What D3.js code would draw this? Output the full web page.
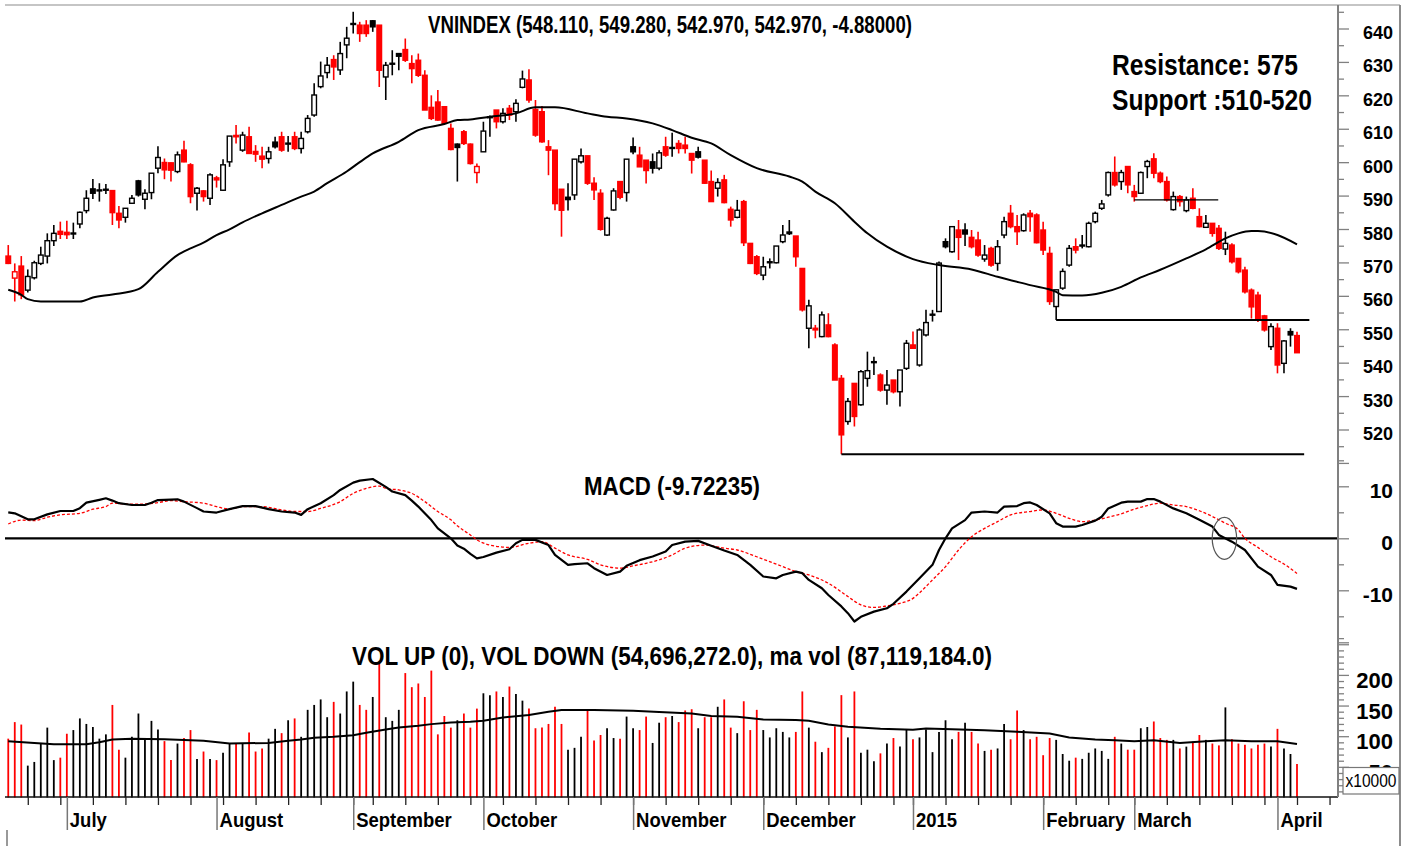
<!DOCTYPE html>
<html>
<head>
<meta charset="utf-8">
<script src="https://cdn.jsdelivr.net/npm/d3@7"></script>
<style>
  html, body { margin: 0; padding: 0; background: #fff; }
  svg { display: block; font-family: "Liberation Sans", Arial, sans-serif; }
</style>
</head>
<body>
<svg id="chart" width="1412" height="846"></svg>
<script>
// ---- trading calendar (HOSE, 18 Jun 2014 .. mid Apr 2015) ----
const firstDay = "2014-06-18";
const lastAxisDay = "2015-04-14";
const holidays = ["2014-09-01", "2014-09-02", "2015-01-01", "2015-01-02",
  "2015-02-16", "2015-02-17", "2015-02-18", "2015-02-19", "2015-02-20", "2015-02-23"];
const monthLabels = ["July", "August", "September", "October", "November", "December",
  "2015", "February", "March", "April"];

// ---- VNINDEX daily candles ----
const open = [
  571.9,565.3,568.9,561.7,565.4,569.7,571.9,576.5,579.3,579.0,
  578.6,581.5,585.5,592.0,591.5,591.6,591.5,584.7,583.5,587.7,
  594.4,588.9,590.9,598.2,599.9,599.8,597.2,603.6,599.2,590.7,
  591.4,589.2,595.3,591.6,600.1,608.0,603.6,607.6,603.2,601.8,
  601.1,606.0,607.6,605.5,607.6,604.1,609.1,614.1,622.6,626.8,
  630.7,627.6,635.1,641.5,641.0,641.0,642.3,641.0,625.5,629.5,
  632.5,633.7,629.5,630.5,626.0,616.4,618.0,616.6,610.1,605.4,
  609.1,605.4,596.9,603.1,613.4,615.6,612.1,616.1,615.1,622.4,
  624.6,615.8,615.1,604.6,603.6,591.9,589.5,590.2,600.1,601.9,
  593.7,590.7,578.2,585.7,594.2,590.9,604.6,602.1,600.6,600.1,
  598.2,604.6,604.3,605.6,605.1,602.6,603.1,600.6,594.2,592.2,
  594.7,585.9,583.5,588.2,575.7,571.7,566.2,570.2,569.9,576.2,
  579.1,577.9,568.2,550.3,550.3,547.8,551.3,545.3,535.3,522.4,
  533.8,527.4,535.3,540.3,536.3,531.8,534.8,531.3,538.3,545.3,
  539.3,548.3,554.3,555.3,576.2,573.2,579.7,579.7,577.5,576.7,
  571.0,574.2,569.7,578.2,584.7,580.7,579.5,584.7,584.2,579.7,
  572.7,556.8,562.3,569.2,574.7,575.2,574.7,582.2,586.2,590.2,
  596.9,594.2,598.7,591.2,590.7,598.7,601.0,596.7,594.2,585.8,
  589.7,585.5,589.2,583.7,580.5,581.7,580.2,574.0,575.2,571.2,
  567.7,561.7,560.2,554.0,544.8,550.3,539.8,549.3,548.11
];
const high = [
  575.2,569.7,571.9,567.9,570.5,574.7,578.7,581.2,582.2,582.5,
  581.9,585.2,591.6,595.0,593.7,593.5,591.5,586.9,586.2,590.2,
  594.7,591.9,596.7,604.8,601.1,599.9,603.2,606.4,599.7,592.6,
  591.6,596.7,595.9,600.9,607.8,611.1,609.1,610.6,605.1,604.6,
  604.6,607.6,609.1,607.8,609.1,609.1,614.1,623.6,630.1,631.5,
  632.0,636.0,640.5,645.0,642.0,642.5,642.5,641.0,630.0,633.5,
  632.6,637.0,632.0,632.5,627.5,620.0,621.6,616.6,611.6,605.6,
  609.6,605.6,599.6,612.1,614.0,615.6,616.1,617.1,618.8,627.4,
  627.8,618.6,616.8,606.6,603.6,591.9,593.7,600.9,604.1,601.9,
  595.5,591.9,583.7,592.2,594.2,600.9,607.4,604.6,600.6,602.6,
  603.6,607.6,608.8,606.6,607.6,602.6,604.6,600.6,597.5,595.2,
  596.2,586.7,588.7,588.7,575.7,572.2,571.7,571.2,574.9,581.2,
  582.7,577.9,568.2,558.8,551.3,555.3,554.8,545.8,536.3,529.4,
  533.8,537.8,543.3,541.8,536.8,537.8,534.8,537.8,546.8,549.3,
  550.3,555.8,555.8,570.3,577.2,580.7,582.7,581.7,579.7,579.2,
  575.2,574.7,576.7,583.7,587.2,584.2,584.7,585.7,584.7,582.2,
  574.7,561.8,568.2,575.2,577.2,578.2,582.2,585.2,588.7,597.2,
  601.7,597.7,598.7,593.2,597.2,600.7,602.7,597.2,595.7,591.2,
  590.2,589.7,592.2,586.2,584.2,581.7,581.2,579.2,575.7,571.2,
  568.7,562.2,561.2,554.3,551.8,551.8,546.8,550.3,549.28
];
const low = [
  569.5,558.3,559.0,561.0,564.9,569.2,569.7,574.9,577.0,577.0,
  577.0,580.2,584.7,589.0,588.2,590.5,581.2,580.2,581.9,587.5,
  589.7,585.9,588.9,596.7,594.9,594.2,596.7,600.0,587.7,585.5,
  588.2,587.2,592.4,591.4,598.6,605.6,603.1,602.6,600.1,598.2,
  599.6,604.1,603.1,603.1,603.6,602.6,608.6,613.6,622.1,625.1,
  624.6,626.1,631.1,638.5,636.0,637.5,639.0,622.5,618.6,626.0,
  627.5,630.0,623.6,625.5,615.6,612.6,612.4,611.4,603.6,594.2,
  605.1,599.3,593.7,603.1,607.6,610.1,611.6,612.6,612.1,622.1,
  617.8,607.6,605.8,596.1,585.6,577.7,585.5,588.7,599.6,593.2,
  588.7,579.5,577.9,585.5,588.9,588.2,602.4,598.6,593.6,596.6,
  597.6,601.6,601.6,602.6,602.6,596.6,601.1,593.5,588.2,589.7,
  587.7,580.7,583.2,574.9,569.5,566.2,564.7,568.2,569.7,575.7,
  578.2,568.7,555.3,544.3,547.3,547.6,547.6,534.8,512.6,521.4,
  520.9,527.1,532.8,536.3,531.3,527.4,530.8,526.9,537.8,544.3,
  538.8,547.8,552.3,555.3,574.2,572.9,570.7,574.9,574.2,571.7,
  570.2,568.7,567.5,577.2,580.2,575.2,579.2,579.2,575.7,572.2,
  557.3,552.8,561.8,568.7,572.7,574.2,574.5,581.7,585.7,589.7,
  592.7,591.7,590.7,588.2,590.5,595.2,595.2,593.7,588.2,585.5,
  586.7,585.0,585.9,580.5,580.5,577.7,573.7,572.2,569.7,566.7,
  560.7,553.2,552.2,549.3,543.8,536.8,536.8,544.8,542.97
];
const close = [
  569.7,567.2,560.3,565.8,569.9,572.2,576.5,578.7,578.4,578.3,
  578.8,585.0,589.2,590.7,591.7,591.9,584.9,582.7,586.2,589.2,
  590.2,590.7,596.7,601.4,597.7,597.6,602.2,600.1,589.7,592.2,
  589.7,596.2,594.7,599.2,607.8,607.6,608.1,602.6,602.4,600.9,
  603.1,604.6,603.6,605.7,604.1,607.1,613.1,620.1,625.8,629.0,
  628.5,632.5,637.1,641.4,638.5,638.5,640.5,627.5,629.0,629.6,
  631.7,630.5,628.0,626.0,615.6,613.1,612.6,611.6,603.8,604.4,
  605.6,599.6,598.7,609.3,613.6,612.1,614.6,614.1,617.6,624.9,
  618.6,608.1,606.1,603.6,587.6,585.6,588.8,600.9,601.9,593.7,
  591.7,579.9,583.2,591.4,589.5,600.9,603.1,598.6,597.5,598.2,
  602.8,602.1,604.4,604.1,604.1,600.6,601.5,593.7,588.2,593.9,
  587.9,582.7,585.6,575.9,569.7,566.7,568.7,569.9,574.9,578.2,
  578.6,571.7,555.8,557.0,549.8,554.3,547.8,534.8,518.4,528.4,
  523.9,537.3,537.6,540.1,531.8,533.3,531.3,537.8,545.8,544.3,
  549.8,552.0,554.5,569.8,574.7,580.7,577.5,578.5,574.7,572.2,
  572.2,569.2,574.7,582.2,580.7,579.2,584.2,583.7,575.9,573.7,
  558.3,561.8,567.3,574.2,573.7,575.0,581.7,584.7,587.5,596.9,
  593.2,596.9,593.2,589.7,596.9,600.2,596.7,594.2,588.7,589.7,
  588.2,588.7,586.2,580.7,581.7,578.7,574.2,575.7,570.2,567.2,
  561.2,556.7,553.2,549.8,550.8,539.3,546.5,548.3,542.97
];
// R = down day (red), B = up day (black)
const candleColor = (
  "RRRBBBBBRR" + "BBBBBBRRBB" + "BBBBRRBRRB" + "RBRBBRBRRR" + "BBRBRBBBBB" +
  "RBBBRRBRBB" + "BRRRRRRRRB" + "RRRBBRBRBB" + "RRRRRRBBBR" + "RRBBRBBRRB" +
  "BRBRRRBRRB" + "RRBRRRBBBB" + "BRRBRBRRRB" + "RBBBRBRBBR" + "BBBBBBRBRR" +
  "BRBBRRBRRR" + "RBBBRBBBBB" + "RBRRBBRRRB" + "RBRRBRRBRR" + "RRRRBRBBR"
).split("");

// volume, x10000 as on the axis
const volume = [
  96,123,119,52,58,88,114,61,65,104,
  110,129,120,115,96,103,151,78,65,99,
  137,96,125,111,92,61,88,97,110,63,
  75,63,61,73,88,88,88,106,75,80,
  96,112,105,126,129,99,143,151,160,131,
  156,137,173,189,151,143,164,222,131,125,
  143,203,180,186,164,207,103,133,114,126,
  137,114,145,170,167,173,164,181,169,158,
  145,113,114,120,148,120,78,81,99,143,
  93,102,113,97,96,132,113,110,132,89,
  122,131,133,123,142,144,113,131,131,148,
  160,114,105,157,110,143,110,98,113,107,
  98,107,173,114,91,74,81,116,167,98,
  173,73,78,59,72,88,97,83,111,95,
  98,111,74,107,126,95,107,122,107,88,
  76,78,80,120,95,142,110,95,99,69,
  97,94,71,60,65,63,73,80,76,63,
  99,88,78,78,113,115,124,97,94,94,
  80,83,91,102,94,88,85,147,95,88,
  86,80,86,88,83,112,80,71,54.7
];

// moving average on price, [bar, value]
const ma50Line = [
  [0,561.8],[2,560.3],[3,559.0],[5,558.3],[8,558.3],[11,558.3],[13,559.5],[16,560.4],[20,562.0],[23,567.2],
  [26,572.2],[28,574.2],[30,575.9],[32,578.2],[34,579.9],[36,582.0],[39,584.7],[42,587.2],[45,589.7],[47,591.2],
  [49,593.7],[52,597.2],[54,600.0],[56,602.6],[60,606.1],[63,609.6],[67,611.4],[69,612.6],[71,612.8],[74,613.6],
  [78,614.6],[81,616.4],[84,616.4],[89,614.6],[92,613.6],[95,613.1],[99,611.6],[102,609.6],[105,607.3],[108,605.6],
  [111,602.1],[115,598.2],[120,595.7],[122,594.2],[124,591.2],[127,587.7],[130,582.2],[132,578.7],[135,574.7],[139,571.0],
  [143,569.2],[148,567.9],[152,565.7],[157,563.2],[161,561.2],[162,560.2],[165,560.1],[168,560.9],[171,562.7],[174,565.5],
  [177,567.8],[181,571.2],[184,573.9],[187,577.2],[189,578.7],[191,579.4],[192,579.4],[195,578.2],[198,575.4]
];

// MACD and signal, [bar, value]
const macdLine = [
  [0,5.0],[1,4.8],[3,3.65],[4,3.65],[6,4.6],[8,5.25],[10,5.25],[11,5.8],[12,6.85],[14,7.4],[15,7.7],[16,7.25],
  [17,6.75],[19,6.4],[21,6.4],[22,6.85],[23,7.35],[26,7.5],[27,7.05],[29,5.8],[30,5.15],[32,4.95],[34,5.6],
  [36,6.2],[38,6.2],[40,5.6],[42,5.15],[44,4.95],[45,4.5],[46,5.6],[48,6.75],[50,8.3],[51,9.3],[53,10.7],
  [54,11.1],[56,11.4],[58,9.9],[59,9.0],[61,8.3],[62,7.25],[63,6.1],[65,3.5],[66,1.9],[68,0],[69,-1.4],
  [70,-2.0],[71,-3.0],[72,-3.85],[73,-3.6],[75,-2.75],[77,-2.1],[78,-0.95],[79,-0.3],[81,-0.3],[83,-1.3],
  [84,-3.2],[86,-5.1],[87,-4.95],[89,-4.8],[90,-5.75],[92,-7.05],[94,-6.4],[95,-5.3],[97,-4.2],[99,-3.5],
  [101,-2.55],[102,-1.3],[104,-0.65],[106,-0.5],[108,-1.45],[110,-2.35],[112,-3.2],[114,-5.1],[116,-7.35],
  [118,-7.7],[119,-7.05],[121,-6.4],[122,-6.7],[123,-8.0],[125,-9.6],[126,-10.9],[128,-13.1],[129,-14.4],
  [130,-16.0],[131,-15.1],[133,-14.1],[135,-13.45],[136,-12.6],[138,-10.25],[140,-7.7],[141,-6.4],[142,-5.1],
  [143,-2.25],[144,0],[145,1.9],[147,3.5],[148,4.95],[150,5.15],[152,4.95],[153,6.1],[155,6.2],[156,6.75],
  [157,6.9],[158,6.4],[160,4.8],[161,2.9],[162,2.25],[164,2.25],[165,2.55],[167,3.4],[168,4.15],[169,5.75],
  [171,6.85],[172,7.05],[174,7.05],[175,7.55],[176,7.55],[177,7.05],[179,5.75],[181,4.8],[183,3.55],
  [185,2.25],[186,0.65],[188,-0.65],[190,-2.25],[192,-5.45],[194,-7.05],[195,-8.95],[197,-9.3],[198,-9.72]
];
const signalLine = [
  [0,2.75],[2,3.5],[4,3.4],[6,4.05],[8,4.5],[11,4.8],[13,5.6],[15,6.1],[16,6.75],[18,6.6],[20,6.55],
  [23,6.85],[25,7.25],[27,7.05],[30,6.75],[32,6.1],[34,5.6],[36,6.1],[39,6.1],[42,5.45],[44,5.15],[46,5.15],
  [48,5.75],[51,7.05],[53,8.65],[55,9.6],[57,10.05],[58,9.6],[60,9.3],[62,8.65],[64,7.05],[66,5.15],
  [68,3.55],[69,2.4],[71,0.65],[72,-0.3],[74,-1.3],[77,-1.75],[80,-0.95],[82,-0.65],[84,-1.9],[86,-3.2],
  [89,-4.05],[91,-5.1],[94,-5.75],[96,-5.3],[98,-4.8],[100,-4.15],[102,-3.2],[104,-1.9],[107,-1.3],
  [110,-1.9],[112,-2.25],[115,-3.55],[119,-5.45],[121,-6.4],[123,-7.05],[126,-8.65],[129,-11.2],
  [131,-12.8],[133,-13.3],[135,-13.0],[137,-12.5],[139,-11.55],[140,-10.5],[142,-8.0],[144,-5.45],
  [146,-2.25],[148,0.3],[150,1.9],[152,3.2],[154,4.5],[157,5.15],[159,5.45],[161,4.8],[163,3.85],
  [165,3.2],[167,3.5],[169,4.05],[171,4.7],[173,5.6],[175,6.3],[177,6.75],[179,6.4],[181,6.1],[183,5.3],
  [185,4.2],[187,2.9],[189,1.6],[190,0],[192,-1.75],[194,-3.55],[196,-4.95],[198,-6.75]
];

// moving average on volume, [bar, value]
const volMaLine = [
  [0,91.8],[4,89.1],[7,86.9],[12,86.9],[14,90.2],[16,94.6],[19,95.7],[24,95.1],[30,92.4],[34,88],
  [40,89.1],[43,92.4],[45,94.6],[47,97.3],[50,99],[53,101.7],[55,105.5],[58,111],[60,114.3],[63,117],
  [65,119.7],[68,122.5],[71,123.5],[73,125.2],[76,130.6],[80,134.5],[83,139.9],[85,142.7],[90,142.7],
  [96,141.6],[100,139.4],[105,137.2],[108,132.8],[112,131.7],[116,127.4],[121,126.3],[123,125.2],
  [126,119.2],[129,115.3],[134,112.1],[139,110.5],[141,112.6],[145,111.5],[150,109.9],[155,107.1],
  [160,104.4],[163,97.9],[167,94.6],[170,93.5],[173,91.9],[176,93.5],[180,89.1],[184,91.9],[187,93.5],
  [191,91.9],[195,91.9],[198,87.1]
];

// drawn support / resistance levels: price, first bar, last bar
const levels = [
  { price: 512.6, from: 128, to: 199.1, w: 2 },
  { price: 552.8, from: 161, to: 199.9, w: 2 },
  { price: 588.7, from: 173, to: 185.9, w: 1.2 }
];

// ---------------------------------------------------------------
const RED = "#ff0000", GRAY = "#808080", FONT = '"Liberation Sans", Arial, sans-serif';
const AX = 1338;
const svg = d3.select("#chart");

const fmtDay = d3.utcFormat("%Y-%m-%d");
const days = d3.utcDays(new Date(firstDay), d3.utcDay.offset(new Date(lastAxisDay), 1))
  .filter(d => d.getUTCDay() % 6 !== 0 && !holidays.includes(fmtDay(d)));
const monthStarts = [], weekStarts = [];
days.forEach((d, i) => {
  if (i === 0) return;
  const p = days[i - 1];
  if (d.getUTCMonth() !== p.getUTCMonth()) monthStarts.push(i);
  if (+d3.utcMonday.floor(d) !== +d3.utcMonday.floor(p)) weekStarts.push(i);
});

const x = d3.scaleLinear().domain([-0.5, 204.3]).range([5, AX]);
const yP = d3.scaleLinear().domain([520, 640]).range([429.5, 28.5]);
const yM = d3.scaleLinear().domain([-10, 10]).range([590.3, 486.3]);
const yV = d3.scaleLinear().domain([0, 200]).range([797.5, 674.9]);

const bars = close.map((c, i) => ({
  i, o: open[i], h: high[i], l: low[i], c, v: volume[i],
  col: candleColor[i] === "R" ? RED : "#000"
}));

// frame
svg.append("line").attr("x1", 5).attr("x2", 1400).attr("y1", 5).attr("y2", 5)
  .attr("stroke", "#8c8c8c").attr("stroke-width", 1.2);
svg.append("line").attr("x1", 1400).attr("x2", 1400).attr("y1", 5).attr("y2", 846)
  .attr("stroke", "#8c8c8c").attr("stroke-width", 2);
svg.append("line").attr("x1", 7).attr("x2", 7).attr("y1", 830).attr("y2", 846)
  .attr("stroke", "#999").attr("stroke-width", 2);

// ---- price panel ----
const priceG = svg.append("g");
priceG.selectAll("line.wick").data(bars).join("line").attr("class", "wick")
  .attr("x1", d => x(d.i)).attr("x2", d => x(d.i))
  .attr("y1", d => yP(d.h)).attr("y2", d => yP(d.l))
  .attr("stroke", d => d.col).attr("stroke-width", 1.6);
priceG.selectAll("rect.body").data(bars).join("rect").attr("class", "body")
  .attr("x", d => x(d.i) - 2.3).attr("width", 4.6)
  .attr("y", d => yP(Math.max(d.o, d.c)))
  .attr("height", d => Math.max(1, Math.abs(yP(d.o) - yP(d.c))))
  .attr("fill", d => d.c >= d.o ? "#fff" : d.col)
  .attr("stroke", d => d.col).attr("stroke-width", 1.4);

priceG.append("path").datum(ma50Line)
  .attr("d", d3.line().x(d => x(d[0])).y(d => yP(d[1])).curve(d3.curveMonotoneX))
  .attr("fill", "none").attr("stroke", "#000").attr("stroke-width", 2);

priceG.selectAll("line.level").data(levels).join("line").attr("class", "level")
  .attr("x1", d => x(d.from)).attr("x2", d => x(d.to))
  .attr("y1", d => yP(d.price)).attr("y2", d => yP(d.price))
  .attr("stroke", "#000").attr("stroke-width", d => d.w);

// ---- MACD panel ----
const macdG = svg.append("g");
macdG.append("line").attr("x1", 5).attr("x2", AX).attr("y1", yM(0)).attr("y2", yM(0))
  .attr("stroke", "#000").attr("stroke-width", 2.3);
macdG.append("path").datum(signalLine)
  .attr("d", d3.line().x(d => x(d[0])).y(d => yM(d[1])).curve(d3.curveMonotoneX))
  .attr("fill", "none").attr("stroke", RED).attr("stroke-width", 1.3).attr("stroke-dasharray", "3,2");
macdG.append("path").datum(macdLine)
  .attr("d", d3.line().x(d => x(d[0])).y(d => yM(d[1])))
  .attr("fill", "none").attr("stroke", "#000").attr("stroke-width", 2.2).attr("stroke-linejoin", "round");
macdG.append("ellipse").attr("cx", x(186.85)).attr("cy", yM(0)).attr("rx", 12.2).attr("ry", 21)
  .attr("fill", "none").attr("stroke", "#555").attr("stroke-width", 1.2);

// ---- volume panel ----
const volG = svg.append("g");
volG.selectAll("line.vol").data(bars).join("line").attr("class", "vol")
  .attr("x1", d => x(d.i)).attr("x2", d => x(d.i))
  .attr("y1", yV(0)).attr("y2", d => yV(d.v))
  .attr("stroke", d => d.col).attr("stroke-width", 1.8);
volG.append("path").datum(volMaLine)
  .attr("d", d3.line().x(d => x(d[0])).y(d => yV(d[1])))
  .attr("fill", "none").attr("stroke", "#000").attr("stroke-width", 2);

// ---- bottom axis ----
svg.append("line").attr("x1", 5).attr("x2", AX).attr("y1", 797).attr("y2", 797)
  .attr("stroke", "#111").attr("stroke-width", 1.5);
const weekAx = svg.append("g").attr("transform", "translate(0,797)")
  .call(d3.axisBottom(x).tickValues(weekStarts).tickSize(8).tickFormat(""));
weekAx.select(".domain").remove();
weekAx.selectAll(".tick line").attr("stroke", "#222").attr("stroke-width", 1.3);

const monthAx = svg.append("g").attr("transform", "translate(0,797)")
  .call(d3.axisBottom(x).tickValues(monthStarts).tickSize(33)
    .tickFormat((d, k) => monthLabels[k]));
monthAx.select(".domain").remove();
monthAx.attr("font-family", FONT).attr("font-size", 21);
monthAx.selectAll(".tick line").attr("stroke", "#777").attr("stroke-width", 1.5);
monthAx.selectAll(".tick text")
  .attr("x", 2.5).attr("y", 30).attr("dy", 0).attr("text-anchor", "start")
  .attr("font-weight", "bold").attr("fill", "#000")
  .each(function () {
    const w = this.getComputedTextLength();
    d3.select(this).attr("textLength", w * 0.88).attr("lengthAdjust", "spacingAndGlyphs");
  });

// ---- right axes ----
svg.append("line").attr("x1", AX).attr("x2", AX).attr("y1", 5).attr("y2", 797)
  .attr("stroke", GRAY).attr("stroke-width", 2);

function rightAxis(scale, minor, major, fmt, fontSize, dy) {
  const gMinor = svg.append("g").attr("transform", `translate(${AX},0)`)
    .call(d3.axisRight(scale).tickValues(minor).tickSize(6).tickFormat(""));
  gMinor.select(".domain").remove();
  gMinor.selectAll(".tick line").attr("stroke", GRAY).attr("stroke-width", 1.3);
  const gMajor = svg.append("g").attr("transform", `translate(${AX},0)`)
    .call(d3.axisRight(scale).tickValues(major).tickSize(11).tickFormat(fmt));
  gMajor.select(".domain").remove();
  gMajor.attr("font-family", FONT).attr("font-size", fontSize);
  gMajor.selectAll(".tick line").attr("stroke", GRAY).attr("stroke-width", 1.3);
  gMajor.selectAll(".tick text")
    .attr("x", 55).attr("dy", dy).attr("text-anchor", "end")
    .attr("font-weight", "bold").attr("fill", "#000");
}
rightAxis(yP, d3.range(515, 646, 10), d3.range(510, 641, 10), d => d === 510 ? "" : d, 18, 10);
rightAxis(yM, [15, 5, -5, -15], [10, 0, -10, -20], d => d === -20 ? "" : d, 21, 11.5);
rightAxis(yV, d3.range(10, 261, 10).filter(v => v % 50), [50, 100, 150, 200, 250],
  d => d === 250 ? "" : d, 22, 12.5);

// x10000 box over the volume scale
svg.append("rect").attr("x", 1343).attr("y", 767.5).attr("width", 56).attr("height", 26.5)
  .attr("fill", "#fff").attr("stroke", "#777").attr("stroke-width", 1.2);
svg.append("text").attr("x", 1345.5).attr("y", 787).attr("font-family", FONT)
  .attr("font-size", 19).attr("textLength", 51).attr("lengthAdjust", "spacingAndGlyphs")
  .text("x10000");

// ---- titles and notes ----
function label(x0, y0, str, size, width) {
  return svg.append("text").attr("x", x0).attr("y", y0)
    .attr("font-family", FONT).attr("font-size", size).attr("font-weight", "bold")
    .attr("fill", "#000").attr("textLength", width).attr("lengthAdjust", "spacingAndGlyphs")
    .text(str);
}
label(428, 33, "VNINDEX (548.110, 549.280, 542.970, 542.970, -4.88000)", 23, 484);
label(1112, 75, "Resistance: 575", 30, 186);
label(1112, 110, "Support :510-520", 30, 200);
label(584, 495, "MACD (-9.72235)", 26, 176);
label(352, 665, "VOL UP (0), VOL DOWN (54,696,272.0), ma vol (87,119,184.0)", 25, 640);
</script>
</body>
</html>
